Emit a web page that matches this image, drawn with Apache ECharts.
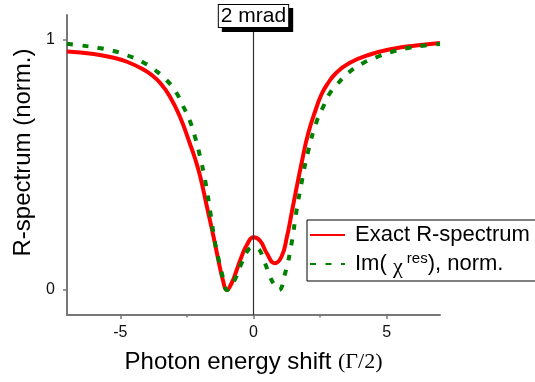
<!DOCTYPE html>
<html>
<head>
<meta charset="utf-8">
<script src="https://cdn.jsdelivr.net/npm/echarts@6/dist/echarts.min.js"></script>
<style>
  html, body { margin: 0; padding: 0; background: #fff; }
  #chart { width: 535px; height: 382px; }
</style>
</head>
<body>
<div id="chart"></div>
<script>
// Values: [photon energy shift, normalised R].
const exactR = [
  [-7, 0.954], [-6, 0.944], [-5.25, 0.929], [-4.75, 0.913], [-4.15, 0.883],
  [-3.8, 0.858], [-3.5, 0.828], [-3.15, 0.776], [-2.75, 0.69], [-2.4, 0.589],
  [-2.2, 0.528], [-2.0, 0.454], [-1.75, 0.334], [-1.5, 0.213], [-1.32, 0.12],
  [-1.15, 0.04], [-1.0, 0.0], [-0.82, 0.028], [-0.63, 0.08], [-0.45, 0.133],
  [-0.25, 0.18], [0, 0.211], [0.24, 0.198], [0.5, 0.147], [0.8, 0.107],
  [1.05, 0.133], [1.25, 0.21], [1.43, 0.307], [1.6, 0.40], [1.8, 0.505],
  [2.05, 0.625], [2.37, 0.732], [2.55, 0.782], [2.75, 0.82], [3.1, 0.868],
  [3.6, 0.908], [4.35, 0.941], [5.25, 0.965], [6.1, 0.978], [7, 0.988]
];

const imChi = [
  [-7, 0.985], [-6.45, 0.978], [-5.8, 0.968], [-5.25, 0.956], [-4.7, 0.937],
  [-4.15, 0.911], [-3.7, 0.88], [-3.25, 0.838], [-2.9, 0.79], [-2.63, 0.733],
  [-2.38, 0.674], [-2.2, 0.614], [-2.05, 0.554], [-1.8, 0.43], [-1.62, 0.31],
  [-1.45, 0.193], [-1.32, 0.127], [-1.2, 0.073], [-1.1, 0.03], [-1.0, 0.0],
  [-0.82, 0.022], [-0.66, 0.05], [-0.45, 0.107], [-0.2, 0.16], [0, 0.17],
  [0.15, 0.167], [0.43, 0.107], [0.62, 0.053], [0.8, 0.018], [0.95, 0.0],
  [1.18, 0.064], [1.43, 0.187], [1.6, 0.307], [1.8, 0.427], [2.05, 0.554],
  [2.37, 0.674], [2.62, 0.734], [2.87, 0.788], [3.18, 0.828], [3.62, 0.874],
  [4.12, 0.908], [4.68, 0.934], [5.24, 0.954], [5.8, 0.968], [6.37, 0.977],
  [7, 0.984]
];

const xLabels = [-5, 0, 5];
const xMinorTicks = [-2.5, 2.5];
const yLabels = [0, 1];
const markerX = 0;
const markerText = '2 mrad';

const font = 'Liberation Sans, Arial, sans-serif';
const serif = 'Liberation Serif, Times New Roman, serif';
const axisColor = '#777';

const chart = echarts.init(document.getElementById('chart'), null, { renderer: 'canvas' });

chart.setOption({
  animation: false,
  backgroundColor: '#fff',
  textStyle: { fontFamily: font },
  grid: { left: 67, right: 95, top: 15, bottom: 67, outerBoundsMode: 'none' },
  legend: {
    orient: 'vertical',
    left: 307,
    top: 220,
    padding: [4, 30, 3, 2],
    itemGap: 4,
    itemWidth: 35,
    itemHeight: 14,
    borderColor: '#000',
    borderWidth: 1,
    backgroundColor: '#fff',
    // the line icons only; hide the marker that ECharts puts on them
    itemStyle: { opacity: 0 },
    data: ['Exact R-spectrum', 'Im'],
    formatter: name => name === 'Im'
      ? '{t|Im( }{chi|χ}{sup| res}{t|), norm.}'
      : '{t|' + name + '}',
    textStyle: {
      color: '#000',
      fontSize: 22,
      padding: [0, 0, 0, 5],
      rich: {
        t: { fontSize: 22, fontFamily: font, lineHeight: 26, color: '#000' },
        chi: { fontSize: 22, fontFamily: serif, lineHeight: 26, color: '#000', padding: [6, 0, 0, 0] },
        sup: { fontSize: 15, fontFamily: font, lineHeight: 26, color: '#000', padding: [0, 0, 10, 0] }
      }
    }
  },
  xAxis: [{
    type: 'value',
    min: -7,
    max: 7,
    name: '{a|Photon energy shift }{b|(Γ/2)}',
    nameLocation: 'middle',
    nameGap: 35,
    nameTextStyle: {
      rich: {
        a: { fontSize: 24, fontFamily: font, color: '#000', lineHeight: 24 },
        b: { fontSize: 22, fontFamily: serif, color: '#000', lineHeight: 24 }
      }
    },
    axisLine: { onZero: false, lineStyle: { color: axisColor, width: 2 } },
    axisTick: { customValues: xLabels, length: 4, lineStyle: { color: axisColor, width: 1.5 } },
    axisLabel: { customValues: xLabels, fontSize: 16, color: '#111', margin: 10, fontFamily: font },
    splitLine: { show: false }
  }, {
    type: 'value',
    min: -7,
    max: 7,
    position: 'bottom',
    axisLine: { show: false, onZero: false },
    axisTick: { customValues: xMinorTicks, length: 2.5, lineStyle: { color: axisColor, width: 1.5 } },
    axisLabel: { show: false },
    splitLine: { show: false }
  }],
  yAxis: {
    type: 'value',
    min: -0.1,
    max: 1.1,
    name: 'R-spectrum (norm.)',
    nameLocation: 'middle',
    nameGap: 32,
    nameTextStyle: { fontSize: 24, color: '#000', fontFamily: font, padding: [0, 0, 0, 25] },
    axisLine: { show: true, onZero: false, lineStyle: { color: axisColor, width: 2 } },
    axisTick: { show: true, customValues: yLabels, length: 4, lineStyle: { color: axisColor, width: 1.5 } },
    axisLabel: { customValues: yLabels, fontSize: 16, color: '#111', margin: 12, fontFamily: font },
    splitLine: { show: false }
  },
  series: [{
    name: 'Exact R-spectrum',
    type: 'line',
    data: exactR,
    smooth: 0.5,
    showSymbol: false,
    symbol: 'none',
    lineStyle: { color: '#ff0000', width: 4 },
    itemStyle: { color: '#ff0000' },
    markLine: {
      silent: true,
      symbol: 'none',
      data: [{ xAxis: markerX }],
      lineStyle: { color: '#333', width: 1.2, type: 'solid' },
      label: {
        show: true,
        position: 'end',
        distance: -12,
        formatter: markerText,
        fontSize: 21,
        fontFamily: font,
        color: '#000',
        backgroundColor: '#fff',
        borderColor: '#000',
        borderWidth: 1,
        padding: [1, 2, 0, 2],
        shadowColor: '#000',
        shadowBlur: 0,
        shadowOffsetX: 4,
        shadowOffsetY: 4
      }
    }
  }, {
    name: 'Im',
    type: 'line',
    data: imChi,
    smooth: 0.5,
    showSymbol: false,
    symbol: 'none',
    lineStyle: { color: '#008000', width: 4, type: [6, 9.5] },
    itemStyle: { color: '#008000' }
  }]
});
</script>
</body>
</html>
